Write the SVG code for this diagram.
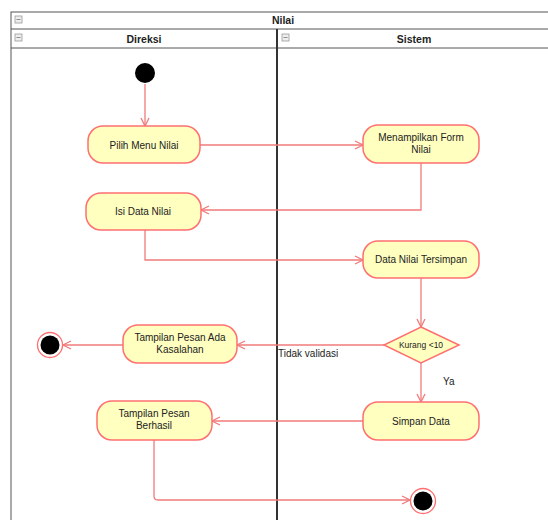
<svg xmlns="http://www.w3.org/2000/svg" width="548" height="520" viewBox="0 0 548 520">
<defs>
<style>
text{font-family:"Liberation Sans",Arial,sans-serif;font-size:10px;fill:#222}
.hdr{font-weight:bold;font-size:10.5px;text-anchor:middle}
.node{fill:#ffffc0;stroke:#ff6f6f;stroke-width:1.5}
.lbl{text-anchor:middle}
.con{fill:none;stroke:#f07a7a;stroke-width:1.3}
.lane{fill:none;stroke:#555;stroke-width:1}
.ico{fill:#eee;stroke:#999;stroke-width:0.8}
</style>
<marker id="arr" markerWidth="10" markerHeight="10" refX="9" refY="5" orient="auto" markerUnits="userSpaceOnUse">
<path d="M1,1 L9,5 L1,9" fill="none" stroke="#f07a7a" stroke-width="1.3"/>
</marker>
</defs>
<rect width="548" height="520" fill="#fff"/>
<g id="pool">
<rect class="lane" x="11" y="12" width="550" height="520"/>
<line class="lane" x1="11" y1="29" x2="548" y2="29"/>
<line class="lane" x1="11" y1="48" x2="548" y2="48" stroke-width="1.5"/>
<line x1="277" y1="29" x2="277" y2="520" stroke="#333" stroke-width="2"/>
<text class="hdr" x="283" y="24">Nilai</text>
<text class="hdr" x="144" y="43">Direksi</text>
<text class="hdr" x="414" y="43">Sistem</text>
<rect class="ico" x="15" y="16" width="7" height="7"/>
<line x1="16.5" y1="19.5" x2="20.5" y2="19.5" stroke="#777" stroke-width="0.8"/>
<rect class="ico" x="15" y="34" width="7" height="7"/>
<line x1="16.5" y1="37.5" x2="20.5" y2="37.5" stroke="#777" stroke-width="0.8"/>
<rect class="ico" x="282" y="34" width="7" height="7"/>
<line x1="283.5" y1="37.5" x2="287.5" y2="37.5" stroke="#777" stroke-width="0.8"/>
</g>
<g id="connectors">
<line class="con" x1="145" y1="84" x2="145" y2="126" marker-end="url(#arr)"/>
<line class="con" x1="200" y1="145" x2="363" y2="145" marker-end="url(#arr)"/>
<path class="con" d="M421,163 V210 H201" marker-end="url(#arr)"/>
<path class="con" d="M145,230 V260 H363" marker-end="url(#arr)"/>
<line class="con" x1="421" y1="278" x2="421" y2="327" marker-end="url(#arr)"/>
<line class="con" x1="384" y1="345" x2="237" y2="345" marker-end="url(#arr)"/>
<text x="278" y="357">Tidak validasi</text>
<line class="con" x1="421" y1="363" x2="421" y2="402" marker-end="url(#arr)"/>
<text x="443" y="385">Ya</text>
<line class="con" x1="123" y1="345" x2="63" y2="345" marker-end="url(#arr)"/>
<line class="con" x1="363" y1="421" x2="212" y2="421" marker-end="url(#arr)"/>
<path class="con" d="M154,440 V496 Q154,500 158,500 H410" marker-end="url(#arr)"/>
</g>
<g id="start"><circle cx="145" cy="73" r="10" fill="#000"/></g>
<g id="pilih"><rect class="node" x="88" y="126" width="112" height="37" rx="15"/><text class="lbl" x="144" y="149">Pilih Menu Nilai</text></g>
<g id="menampilkan"><rect class="node" x="363" y="125" width="116" height="38" rx="15"/><text class="lbl" x="421" y="141">Menampilkan Form</text><text class="lbl" x="421" y="153">Nilai</text></g>
<g id="isi"><rect class="node" x="86" y="193" width="115" height="37" rx="15"/><text class="lbl" x="143" y="215">Isi Data Nilai</text></g>
<g id="tersimpan"><rect class="node" x="363" y="241" width="116" height="37" rx="15"/><text class="lbl" x="421" y="263">Data Nilai Tersimpan</text></g>
<g id="decision"><polygon class="node" points="421,327 459,345 421,363 384,345"/><text class="lbl" x="421" y="348" style="font-size:8.5px">Kurang &lt;10</text></g>
<g id="kesalahan"><rect class="node" x="123" y="325" width="114" height="38" rx="15"/><text class="lbl" x="180" y="341">Tampilan Pesan Ada</text><text class="lbl" x="180" y="353">Kasalahan</text></g>
<g id="end1"><circle cx="50" cy="345" r="12.5" fill="#fff" stroke="#ff6f6f" stroke-width="1.3"/><circle cx="50" cy="345" r="9.5" fill="#000"/></g>
<g id="simpan"><rect class="node" x="363" y="402" width="116" height="38" rx="15"/><text class="lbl" x="421" y="425">Simpan Data</text></g>
<g id="berhasil"><rect class="node" x="97" y="401" width="115" height="39" rx="15"/><text class="lbl" x="154" y="417">Tampilan Pesan</text><text class="lbl" x="154" y="429">Berhasil</text></g>
<g id="end2"><circle cx="423" cy="501" r="12.5" fill="#fff" stroke="#ff6f6f" stroke-width="1.3"/><circle cx="423" cy="501" r="9.5" fill="#000"/></g>
</svg>
